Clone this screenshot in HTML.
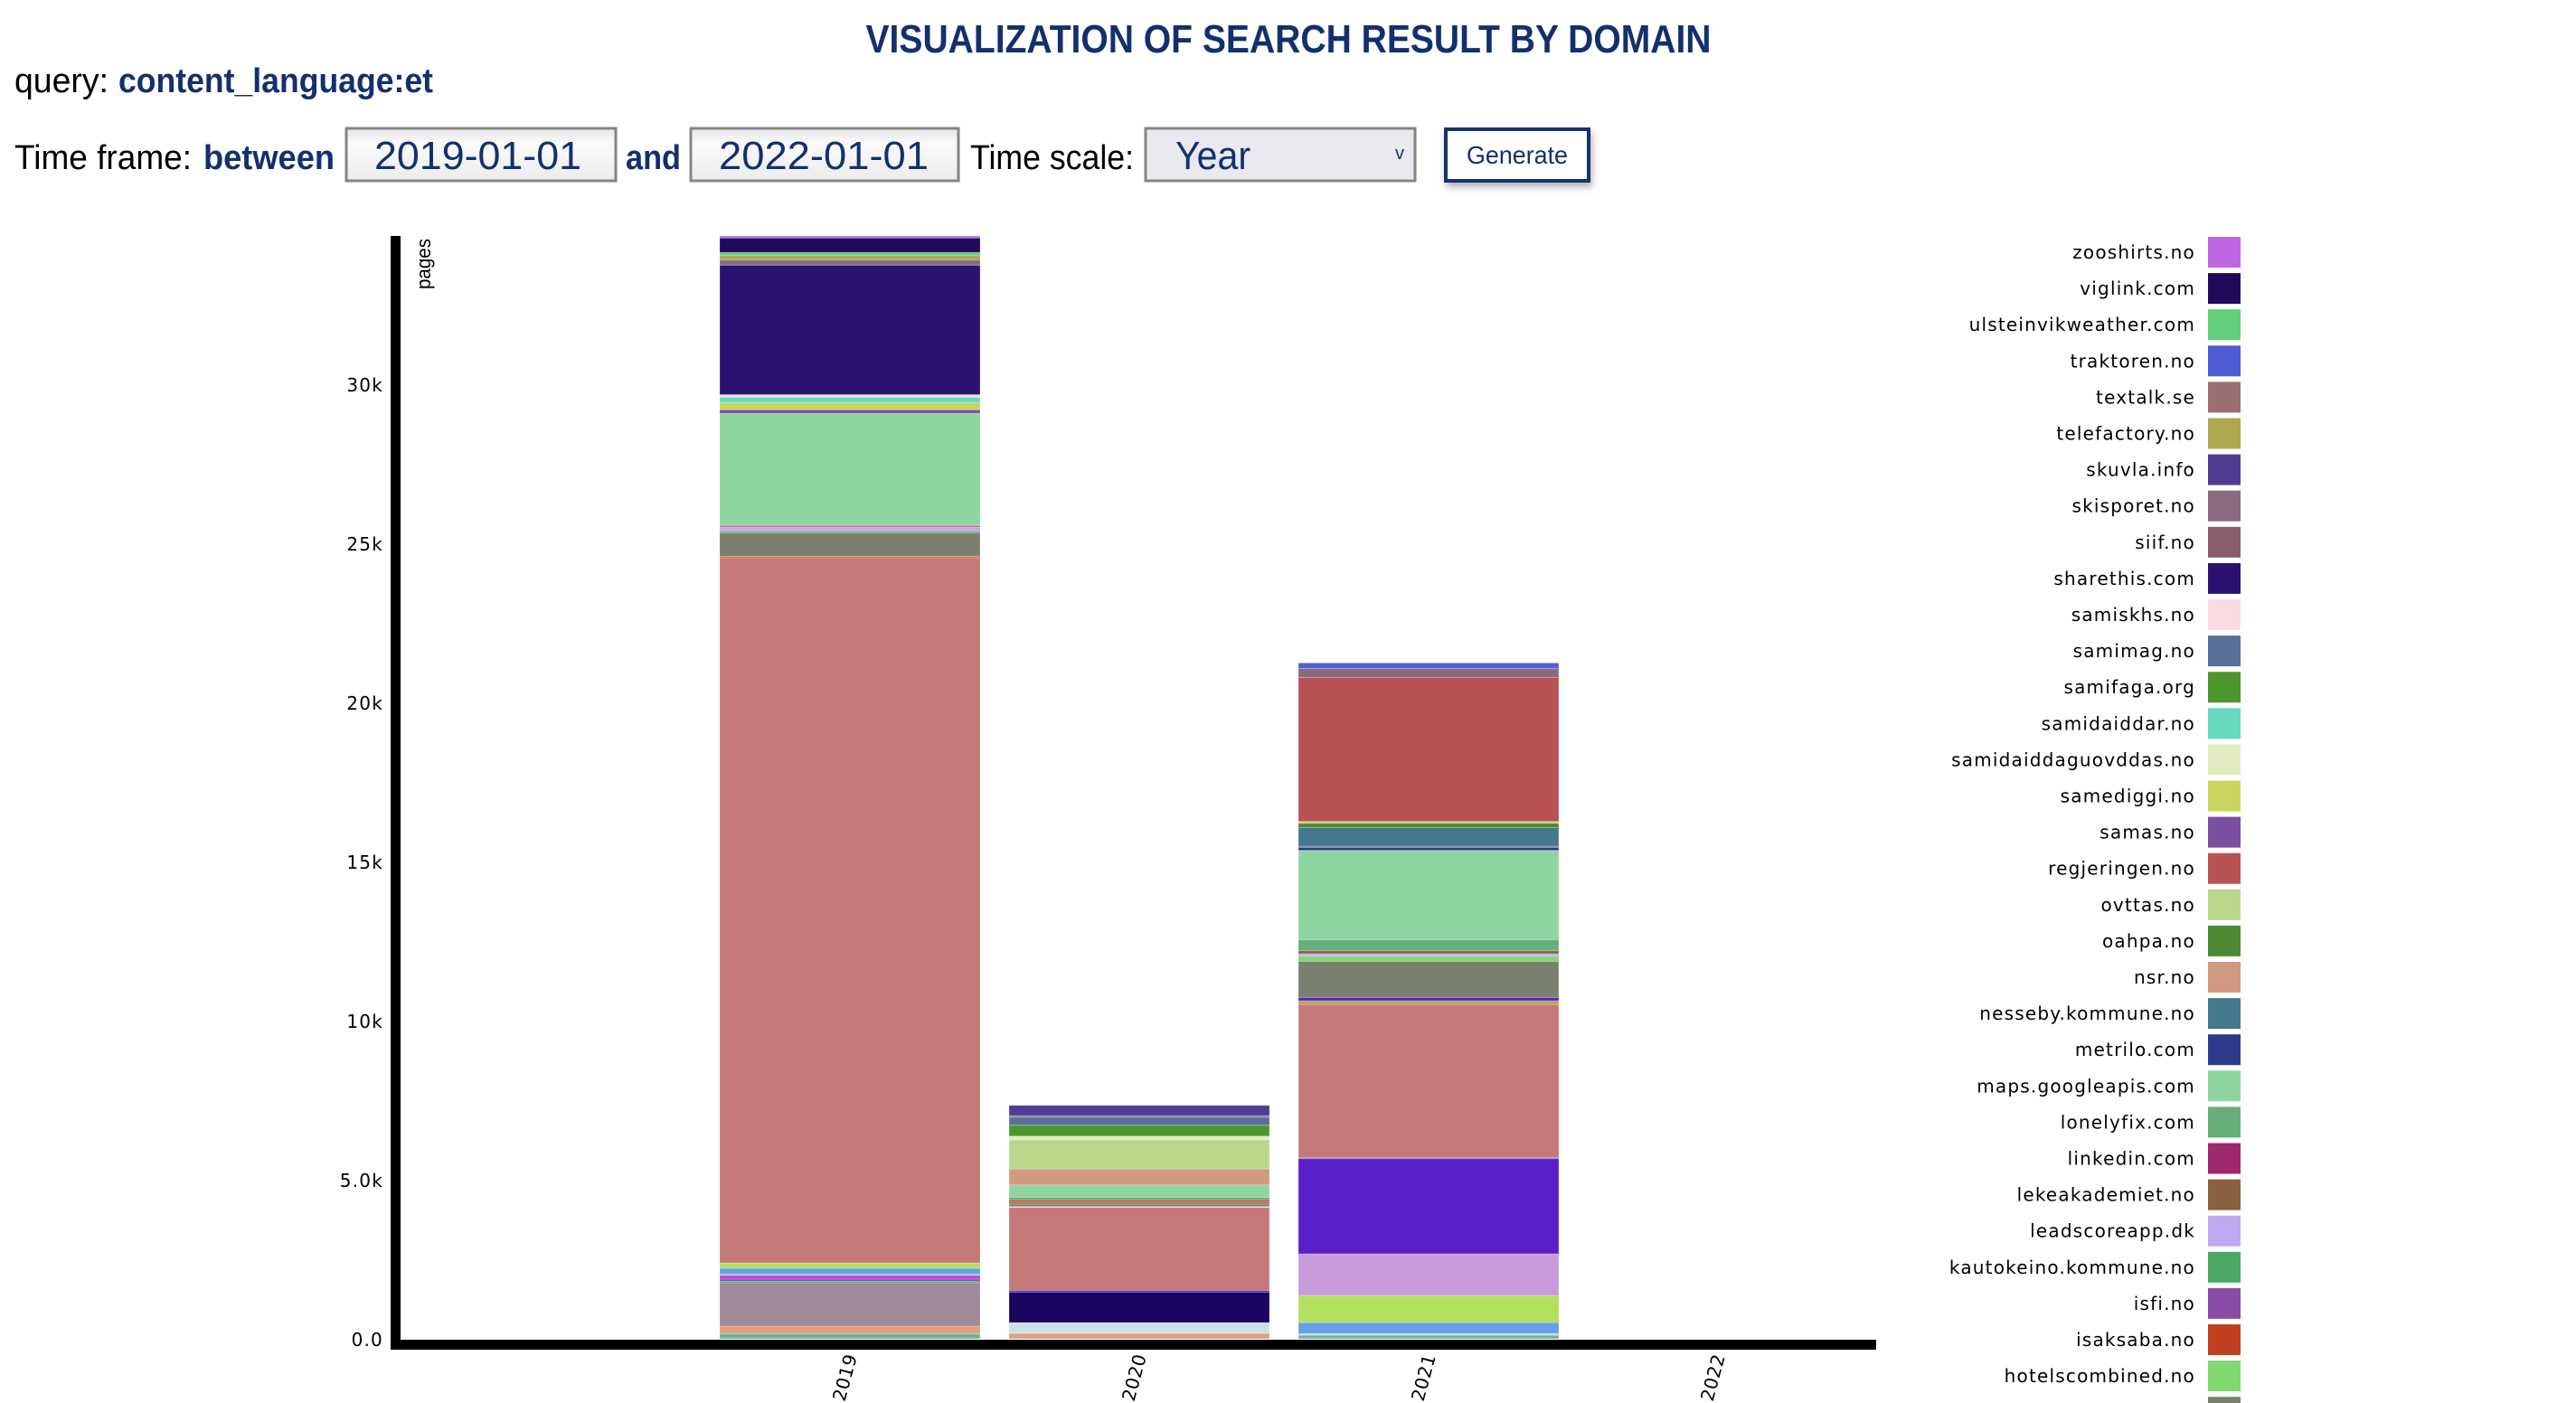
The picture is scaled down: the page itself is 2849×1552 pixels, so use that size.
<!DOCTYPE html>
<html><head><meta charset="utf-8"><style>
html,body{margin:0;padding:0;background:#fff;width:2849px;height:1552px;overflow:hidden}
svg{display:block}
.hd{font-family:"Liberation Sans",sans-serif;}
.lg{font-family:"DejaVu Sans","Liberation Sans",sans-serif;font-size:20px;letter-spacing:1.2px;fill:#000}
.tk{font-family:"DejaVu Sans","Liberation Sans",sans-serif;font-size:20px;letter-spacing:0.5px;fill:#000}
</style></head><body>
<svg id="chart" width="2849" height="1552" viewBox="0 0 2849 1552" xmlns="http://www.w3.org/2000/svg">
<defs>
<linearGradient id="inp" x1="0" y1="0" x2="0" y2="1"><stop offset="0" stop-color="#e6e6e6"/><stop offset="0.3" stop-color="#fafafa"/><stop offset="1" stop-color="#ececec"/></linearGradient>
<filter id="sh" x="-20%" y="-20%" width="140%" height="160%"><feDropShadow dx="2" dy="5" stdDeviation="4" flood-color="#000" flood-opacity="0.3"/></filter>
</defs>
<g class="hd">
<text x="1425" y="58" text-anchor="middle" font-size="44" font-weight="bold" fill="#13306e" textLength="935" lengthAdjust="spacingAndGlyphs">VISUALIZATION OF SEARCH RESULT BY DOMAIN</text>
<text x="16" y="102" font-size="38" fill="#000" textLength="104" lengthAdjust="spacingAndGlyphs">query:</text>
<text x="131" y="102" font-size="38" font-weight="bold" fill="#13306e" textLength="348" lengthAdjust="spacingAndGlyphs">content_language:et</text>
<text x="16" y="187" font-size="38" fill="#000" textLength="196" lengthAdjust="spacingAndGlyphs">Time frame:</text>
<text x="225" y="187" font-size="38" font-weight="bold" fill="#13306e" textLength="145" lengthAdjust="spacingAndGlyphs">between</text>
<g>
<rect x="383" y="142" width="298" height="58" fill="url(#inp)" stroke="#858585" stroke-width="3"/>
<text x="414" y="187" font-size="44" fill="#13306e" textLength="229" lengthAdjust="spacingAndGlyphs">2019-01-01</text></g>
<text x="692" y="187" font-size="38" font-weight="bold" fill="#13306e" textLength="61" lengthAdjust="spacingAndGlyphs">and</text>
<g>
<rect x="764" y="142" width="296" height="58" fill="url(#inp)" stroke="#858585" stroke-width="3"/>
<text x="795" y="187" font-size="44" fill="#13306e" textLength="232" lengthAdjust="spacingAndGlyphs">2022-01-01</text></g>
<text x="1073" y="187" font-size="38" fill="#000" textLength="181" lengthAdjust="spacingAndGlyphs">Time scale:</text>
<g>
<rect x="1267" y="142" width="298" height="58" fill="#e9e9ef" stroke="#858585" stroke-width="3"/>
<text x="1300" y="187" font-size="44" fill="#13306e" textLength="83" lengthAdjust="spacingAndGlyphs">Year</text>
<text x="1548" y="176" font-size="20" fill="#13306e" text-anchor="middle">v</text></g>
<g>
<rect x="1599" y="143" width="158" height="57" fill="#fff" stroke="#13306e" stroke-width="4" filter="url(#sh)"/>
<text x="1678" y="181" font-size="28" fill="#13306e" text-anchor="middle" textLength="112" lengthAdjust="spacingAndGlyphs">Generate</text></g>
</g>
<g id="plot"></g>
<g id="legend"></g>
</svg>
<script>
var years = ["2019","2020","2021","2022"];
var yTicks = [0,5000,10000,15000,20000,25000,30000];
var yTickLabels = ["0.0","5.0k","10k","15k","20k","25k","30k"];

var domains2019 = ["flickr.com","gstatic.com","imgur.com","google.no","bit.ly","youtube.com","samidaiddar.no","vimeo.com","twitter.com","facebook.com","yr.no","google.com","lonelyfix.com","leadscoreapp.dk","pinterest.com","maps.googleapis.com","samas.no","samediggi.no","samidaiddar.no","samiskhs.no","sharethis.com","skisporet.no","telefactory.no","ulsteinvikweather.com","viglink.com","zooshirts.no"];
var values2019 = [162,236,1364,48,65,114,48,179,170,22160,48,739,57,114,57,3523,114,227,170,77,4071,170,134,94,455,65];

var domains2020 = ["gstatic.com","nrk.no","vg.no","wikipedia.org","facebook.com","samiskhs.no","google.com","dagbladet.no","isaksaba.no","lonelyfix.com","maps.googleapis.com","nsr.no","ovttas.no","samidaiddaguovddas.no","samifaga.org","samimag.no","skisporet.no","skuvla.info"];
var values2020 = [170,341,957,57,2605,28,77,77,57,77,389,503,918,114,341,256,48,321];

var domains2021 = ["flickr.com","nrk.no","vimeo.com","twitter.com","instagram.com","wikipedia.org","tumblr.com","facebook.com","telefactory.no","wikipedia.org","google.com","hotelscombined.no","leadscoreapp.dk","lekeakademiet.no","lonelyfix.com","maps.googleapis.com","metrilo.com","samimag.no","nesseby.kommune.no","oahpa.no","samediggi.no","regjeringen.no","skisporet.no","traktoren.no"];
var values2021 = [114,48,349,852,1307,2992,37,4810,114,105,1136,162,77,94,349,2804,94,37,588,134,57,4526,284,170];

var legendNames = ["zooshirts.no","viglink.com","ulsteinvikweather.com","traktoren.no","textalk.se","telefactory.no","skuvla.info","skisporet.no","siif.no","sharethis.com","samiskhs.no","samimag.no","samifaga.org","samidaiddar.no","samidaiddaguovddas.no","samediggi.no","samas.no","regjeringen.no","ovttas.no","oahpa.no","nsr.no","nesseby.kommune.no","metrilo.com","maps.googleapis.com","lonelyfix.com","linkedin.com","lekeakademiet.no","leadscoreapp.dk","kautokeino.kommune.no","isfi.no","isaksaba.no","hotelscombined.no","google.com"];

var colors = {"zooshirts.no":"#c065e0","viglink.com":"#200a5a","ulsteinvikweather.com":"#63cf7b","traktoren.no":"#4f5cd4","textalk.se":"#9a7070","telefactory.no":"#b0a850","skuvla.info":"#4f3d94","skisporet.no":"#8a6a80","siif.no":"#8a5d6a","sharethis.com":"#2c1270","samiskhs.no":"#f8dce0","samimag.no":"#5a6e9a","samifaga.org":"#4d962e","samidaiddar.no":"#66d9c0","samidaiddaguovddas.no":"#e2ecc0","samediggi.no":"#c8d45c","samas.no":"#7a4fa0","regjeringen.no":"#b85255","ovttas.no":"#b8d78a","oahpa.no":"#4d8a32","nsr.no":"#d09a80","nesseby.kommune.no":"#44788f","metrilo.com":"#303a8a","maps.googleapis.com":"#8fd5a2","lonelyfix.com":"#68ae7a","linkedin.com":"#a0286e","lekeakademiet.no":"#8a6040","leadscoreapp.dk":"#c0a8f0","kautokeino.kommune.no":"#4aa860","isfi.no":"#8a4aa8","isaksaba.no":"#c04020","hotelscombined.no":"#80d870","google.com":"#7a806e","flickr.com":"#72b39a","gstatic.com":"#e0a07a","imgur.com":"#a08a9a","google.no":"#7a8c76","bit.ly":"#2f6db5","youtube.com":"#e030d0","vimeo.com":"#66a0ea","twitter.com":"#b2e05c","facebook.com":"#c47878","yr.no":"#e05a30","nrk.no":"#cde0e8","vg.no":"#1a0560","wikipedia.org":"#5a20c8","dagbladet.no":"#a07060","instagram.com":"#c89ade","pinterest.com":"#c06080","tumblr.com":"#9060c0"};

var NS = "http://www.w3.org/2000/svg";
var Y0 = 1481, PX5K = 176, C0 = 940, STEP = 320, BW = 288;
function yScale(v){ return Y0 - v / 5000 * PX5K; }
function xCenter(i){ return C0 + i * STEP; }
function mk(tag, attrs, parent){ var e = document.createElementNS(NS, tag); for (var k in attrs) e.setAttribute(k, attrs[k]); parent.appendChild(e); return e; }

var plot = document.getElementById("plot");
var stacks = [[domains2019, values2019], [domains2020, values2020], [domains2021, values2021]];
stacks.forEach(function(s, i){
  var g = mk("g", {}, plot);
  
  
  var cum = 0;
  s[1].forEach(function(v, j){
    var top = yScale(cum + v), bot = yScale(cum);
    var r = mk("rect", {x: xCenter(i) - BW/2, y: top, width: BW, height: Math.max(bot - top, 0), fill: colors[s[0][j]] || "#999", stroke: "rgba(255,255,255,0.25)", "stroke-width": 1}, g);
    
    
    cum += v;
  });
});

var yAxis = mk("rect", {x: 432, y: 261, width: 11, height: 1232, fill: "#000"}, plot);


var xAxis = mk("rect", {x: 443, y: 1482, width: 1632, height: 11, fill: "#000"}, plot);



yTicks.forEach(function(t, i){
  var tx = mk("text", {x: 424, y: yScale(t) + 8, "text-anchor": "end", "class": "lg"}, plot);
  tx.textContent = yTickLabels[i];
  
  
});
var yt = mk("text", {transform: "translate(476,264) rotate(-90)", "text-anchor": "end", "font-size": 22, "font-family": "Liberation Sans, sans-serif", fill: "#000", textLength: 56, lengthAdjust: "spacingAndGlyphs"}, plot);
yt.textContent = "pages";



years.forEach(function(yr, i){
  var tx = mk("text", {transform: "translate(" + (xCenter(i) + 8) + ",1500) rotate(-75)", "text-anchor": "end", "class": "tk"}, plot);
  tx.textContent = yr;
  
  
});

var legend = document.getElementById("legend");
legendNames.forEach(function(n, i){
  var cy = 279 + i * 40.1;
  var g = mk("g", {}, legend);
  
  
  var t = mk("text", {x: 2428, y: cy + 7, "text-anchor": "end", "class": "lg"}, g);
  t.textContent = n;
  mk("rect", {x: 2442, y: cy - 17, width: 36, height: 34, fill: colors[n]}, g);
});
</script>
</body></html>
